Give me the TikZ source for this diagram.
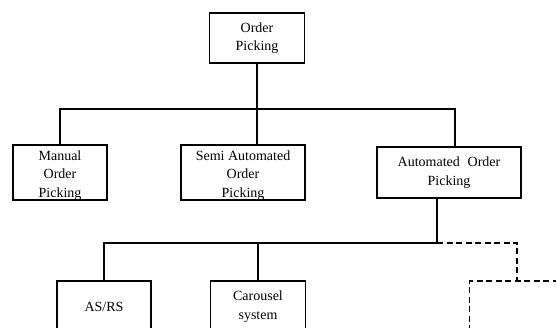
\documentclass[tikz,border=0pt]{standalone}
\usepackage{fontspec}
\setmainfont{Liberation Serif}
\usetikzlibrary{positioning}
\tikzset{
  every picture/.style={draw=black, text=black},
  box/.style={draw=black, line width=1.8pt, inner sep=0pt, align=center,
    minimum height=51pt, font=\fontsize{14}{18.5}\selectfont},
  branch/.style={line width=1.8pt},
  open/.style={line width=1.8pt, dash pattern=on 6pt off 3.5pt},
}
% pushes three-line labels down a little
\newcommand{\lowgap}{\rule{0pt}{15.5pt}}

\begin{document}
\begin{tikzpicture}[x=1pt, y=-1pt]
\useasboundingbox (0,0) rectangle (556,328);
\clip (0,0) rectangle (556,328);
% Root
\node[box, minimum width=95pt, minimum height=50pt] (root) at (257,38) {Order\\Picking};
% Second level
\node[box, minimum width=94pt] (manual) at (60,172.5) {\lowgap Manual\\Order\\Picking};
\node[box, minimum width=124pt] (semi) at (243,172.5) {\lowgap Semi Automated\\Order\\Picking};
\node[box, minimum width=144pt] (auto) at (449,172.5) {Automated\hspace{0.3em} Order\\Picking};
% Third level
\node[box, minimum width=94pt] (asrs) at (104,306.5) {AS/RS};
\node[box, minimum width=95pt] (carousel) at (258,306.5) {Carousel\\system};
\node[box, open, minimum width=95pt] (other) at (517,306.5) {};
% Connectors from the root
\draw[branch] (root.south) -- ++(0,45) -| (manual.north);
\draw[branch] (root.south) -- ++(0,45) -| ([xshift=6pt]auto.north);
\draw[branch] (root.south) -- (root.south |- semi.north);
% Connectors from automated picking
\draw[branch] ([xshift=-12pt]auto.south) -- ++(0,44) -| (asrs.north);
\draw[branch] ([xshift=-12pt]auto.south) -- ++(0,44) -| (carousel.north);
\draw[open] ([xshift=-12pt,yshift=-44pt]auto.south) -| (other.north);
\end{tikzpicture}
\end{document}
